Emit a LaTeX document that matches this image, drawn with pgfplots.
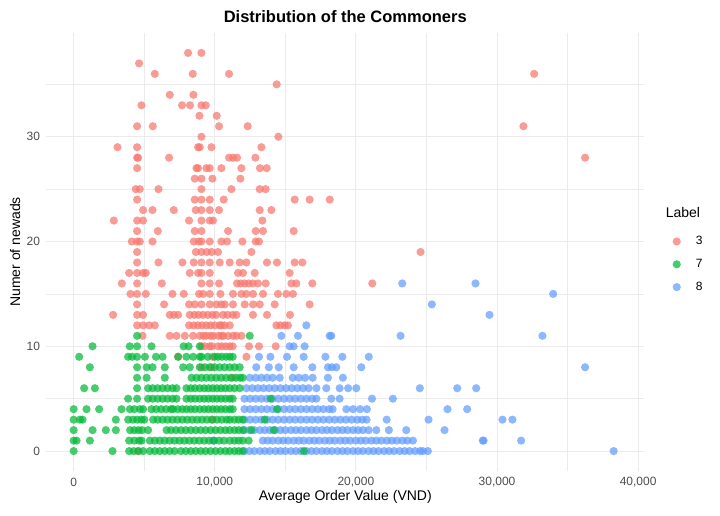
\documentclass[border=0pt]{standalone}
\usepackage{pgfplots}
\pgfplotsset{compat=1.18}
\usepackage{fontspec}
\setmainfont{Liberation Sans}
\definecolor{cA}{HTML}{F8766D}
\definecolor{cB}{HTML}{00BA38}
\definecolor{cC}{HTML}{619CFF}
\definecolor{gridc}{HTML}{EBEBEB}
\definecolor{tickc}{HTML}{4D4D4D}
\pgfplotsset{
 redm/.style={only marks, mark=*, mark size=4.1pt, color=cA, mark options={fill=cA, fill opacity=0.72, draw opacity=0}},
 greenm/.style={only marks, mark=*, mark size=4.1pt, color=cB, mark options={fill=cB, fill opacity=0.72, draw opacity=0}},
 bluem/.style={only marks, mark=*, mark size=4.1pt, color=cC, mark options={fill=cC, fill opacity=0.72, draw opacity=0}},
}
\begin{document}
\begin{tikzpicture}
\useasboundingbox (0,0) rectangle (720pt,516pt);
\begin{axis}[
 at={(46.5pt,45pt)}, anchor=south west,
 scale only axis, width=597.5pt, height=438pt,
 xmin=-1925, xmax=40415, ymin=-1.9, ymax=39.9,
 scaled x ticks=false, scaled y ticks=false,
 axis line style={draw=none},
 major tick length=0pt, minor tick length=0pt,
 xtick={0,10000,20000,30000,40000},
 xticklabels={0,{10,000},{20,000},{30,000},{40,000}},
 ytick={0,10,20,30},
 yticklabels={0,10,20,30},
 minor xtick={5000,15000,25000,35000},
 minor ytick={5,15,25,35},
 grid=both,
 major grid style={gridc, line width=1pt},
 minor grid style={gridc, line width=0.6pt},
 xticklabel style={font=\fontsize{12}{14}\selectfont, text=tickc, anchor=center, yshift=-11pt},
 yticklabel style={font=\fontsize{12}{14}\selectfont, text=tickc, anchor=east, xshift=-3pt},
 xlabel={Average Order Value (VND)},
 ylabel={Numer of newads},
 xlabel style={font=\fontsize{14}{17}\selectfont, at={(axis description cs:0.5,0)}, anchor=center, yshift=-26pt},
 ylabel style={font=\fontsize{14}{17}\selectfont, at={(axis description cs:0,0.5)}, anchor=center, yshift=31.5pt},
 title={Distribution of the Commoners},
 title style={font=\bfseries\fontsize{16.5}{20}\selectfont, at={(axis description cs:0.5,1)}, anchor=center, yshift=10pt},
 legend style={draw=none, fill=none, at={(1,0.5)}, anchor=west, xshift=21pt, yshift=2.5pt,
   font=\fontsize{12}{14}\selectfont, row sep=9pt, legend cell align=left,
   /tikz/every odd column/.append style={column sep=13pt}},
]
\addlegendimage{empty legend}
\addlegendentry{\hspace{-30pt}\raisebox{5pt}{\fontsize{14}{17}\selectfont Label}}
\addlegendimage{redm}
\addlegendentry{3}
\addlegendimage{greenm}
\addlegendentry{7}
\addlegendimage{bluem}
\addlegendentry{8}

% Label 3
\addplot[redm, forget plot] coordinates {
(8106,38)(9050,38)
(4637,37)
(5749,36)(8439,36)(11009,36)(32630,36)
(14386,35)
(6811,34)(8488,34)
(4806,33)(7681,33)(8248,33)(9053,33)(9359,33)
(8912,32)(10138,32)
(4497,31)(5607,31)(10303,31)(12333,31)(31873,31)
(9053,30)(14505,30)
(3107,29)(4497,29)(8816,29)(8935,29)(9762,29)(13302,29)
(4497,28)(4560,28)(6761,28)(11009,28)(11292,28)(11575,28)(12878,28)(36240,28)
(4497,27)(8700,27)(8816,27)(9409,27)(9643,27)(10470,27)(11886,27)(13204,27)(13678,27)
(8580,26)(9053,26)(9830,26)(11816,26)
(4403,25)(4686,25)(6009,25)(9053,25)(11178,25)(13183,25)(13607,25)
(4497,24)(8580,24)(9053,24)(9643,24)(10634,24)(15660,24)(16722,24)(18145,24)
(4920,23)(5586,23)(7094,23)(8651,23)(9053,23)(9643,23)(10303,23)(13183,23)(14011,23)
(2846,22)(4497,22)(4920,22)(8177,22)(9053,22)(9643,22)(9876,22)(13373,22)
(4497,21)(5961,21)(8580,21)(9053,21)(10940,21)(12899,21)(13416,21)(15590,21)
(4120,20)(4497,20)(4686,20)(5586,20)(8510,20)(8864,20)(9053,20)(9643,20)(10470,20)(10868,20)(11958,20)(12900,20)(13133,20)
(4497,19)(8660,19)(9055,19)(9430,19)(9780,19)(10230,19)(12595,19)(24580,19)
(4497,18)(6009,18)(7710,18)(8510,18)(9053,18)(9643,18)(10351,18)(11058,18)(11766,18)(12240,18)(13699,18)(14407,18)(15660,18)(16205,18)
(3931,17)(4497,17)(4920,17)(5112,17)(8227,17)(8816,17)(9053,17)(9643,17)(11646,17)(12000,17)(12828,17)(15306,17)
(3412,16)(4497,16)(6244,16)(9053,16)(9643,16)(10300,16)(11575,16)(11840,16)(12120,16)(12400,16)(12690,16)(13062,16)(13607,16)(15427,16)(15780,16)(16913,16)(21161,16)
(4028,15)(4497,15)(5112,15)(7002,15)(7802,15)(8885,15)(9170,15)(9643,15)(10400,15)(11290,15)(11886,15)(12240,15)(12710,15)(13420,15)(14478,15)(15072,15)(15540,15)
(4497,14)(6409,14)(8177,14)(8580,14)(9055,14)(9643,14)(10117,14)(10470,14)(10705,14)(11290,14)(12120,14)(12710,14)(13183,14)(14245,14)(16722,14)
(2796,13)(4497,13)(4920,13)(6811,13)(7100,13)(7400,13)(8227,13)(8550,13)(8850,13)(9170,13)(9500,13)(9834,13)(10100,13)(10585,13)(10900,13)(11271,13)(11533,13)(12708,13)(13700,13)(15330,13)
(4497,12)(4920,12)(5345,12)(5749,12)(8177,12)(8500,12)(8800,12)(9100,12)(9409,12)(9700,12)(10000,12)(10350,12)(10470,12)(10700,12)(11059,12)(14363,12)(14650,12)(14950,12)(15186,12)
(4878,11)(6811,11)(7285,11)(7874,11)(8460,11)(8935,11)(9200,11)(9409,11)(9700,11)(9900,11)(10250,11)(10470,11)(10600,11)(10950,11)(11300,11)(11535,11)(11887,11)
(9055,10)(9290,10)(9643,10)(9785,10)(10230,10)(10500,10)(10776,10)(11060,10)(11271,10)(12425,10)(13133,10)(14316,10)
(7400,9)(9834,9)(12241,9)
(9055,8)(9763,8)
(11271,7)
(9834,3)
(4550,0)
};

% Label 8
\addplot[bluem, forget plot] coordinates {
(12100,0)(12450,0)(12800,0)(13200,0)(13550,0)(13900,0)(14300,0)(14650,0)(15000,0)(15400,0)(15750,0)(16100,0)(16500,0)(16850,0)(17200,0)(17600,0)(17950,0)(18300,0)(18700,0)(19050,0)(19400,0)(19800,0)(20150,0)(20500,0)(20900,0)(21250,0)(21600,0)(22000,0)(22350,0)(22700,0)(23100,0)(23450,0)(23800,0)(24200,0)(24550,0)(24750,0)(25100,0)(38265,0)
(9877,1)(13400,1)(13750,1)(14100,1)(14500,1)(14850,1)(15200,1)(15600,1)(15950,1)(16300,1)(16700,1)(17050,1)(17400,1)(17800,1)(18150,1)(18500,1)(18900,1)(19250,1)(19600,1)(20000,1)(20350,1)(20700,1)(21100,1)(21450,1)(21800,1)(22200,1)(22550,1)(22900,1)(23300,1)(23650,1)(24040,1)(28991,1)(29050,1)(31708,1)
(12100,2)(12450,2)(12800,2)(13200,2)(13550,2)(13900,2)(14300,2)(14650,2)(15000,2)(15400,2)(15750,2)(16100,2)(16500,2)(16850,2)(17200,2)(17600,2)(17950,2)(18300,2)(18700,2)(19050,2)(19400,2)(19800,2)(20150,2)(20500,2)(20900,2)(21445,2)(22336,2)(23567,2)(26280,2)
(12100,3)(12500,3)(12900,3)(13300,3)(13700,3)(14100,3)(14500,3)(14900,3)(15300,3)(15700,3)(16100,3)(16500,3)(16900,3)(17300,3)(17700,3)(18100,3)(18500,3)(18900,3)(19300,3)(19700,3)(20100,3)(20450,3)(20758,3)(22180,3)(25147,3)(30386,3)(31094,3)
(12100,4)(12500,4)(12900,4)(13300,4)(13700,4)(14100,4)(14500,4)(14900,4)(15300,4)(15700,4)(16100,4)(16500,4)(16900,4)(17300,4)(17700,4)(18100,4)(18350,4)(19321,4)(19800,4)(20300,4)(20780,4)(26492,4)(27886,4)
(12100,5)(12500,5)(12900,5)(13300,5)(13700,5)(14100,5)(14500,5)(14900,5)(15300,5)(15700,5)(16100,5)(16500,5)(16900,5)(17200,5)(18258,5)(18847,5)(21140,5)(22619,5)
(12240,6)(12650,6)(13050,6)(13450,6)(13850,6)(14250,6)(14650,6)(15050,6)(15450,6)(15850,6)(16250,6)(16650,6)(17200,6)(17905,6)(18847,6)(19450,6)(20028,6)(24531,6)(27179,6)(28524,6)
(12474,7)(12900,7)(13300,7)(13700,7)(14100,7)(14600,7)(15520,7)(15950,7)(16400,7)(16935,7)(18018,7)(19080,7)
(12940,8)(13830,8)(14530,8)(15590,8)(16913,8)(18018,8)(18300,8)(18612,8)(20382,8)(36240,8)
(13133,9)(13940,9)(15115,9)(16297,9)(17841,9)(19038,9)(20910,9)
(15307,10)(15590,10)(16368,10)
(14718,11)(15893,11)(18138,11)(18258,11)(23165,11)(33218,11)
(16488,12)
(29465,13)
(25381,14)
(33975,15)
(23285,16)(28474,16)
};

% Label 7
\addplot[greenm, forget plot] coordinates {
(0,0)(2752,0)(3930,0)(4250,0)(4600,0)(4921,0)(5400,0)(5750,0)(6100,0)(6450,0)(6800,0)(7150,0)(7600,0)(7950,0)(8300,0)(8650,0)(9000,0)(9350,0)(9700,0)(10050,0)(10400,0)(10750,0)(11060,0)(11400,0)(11700,0)(11980,0)(16318,0)
(0,1)(205,1)(1147,1)(3930,1)(4300,1)(4650,1)(4810,1)(5400,1)(5750,1)(6100,1)(6450,1)(6800,1)(7150,1)(7500,1)(7850,1)(8200,1)(8550,1)(8900,1)(9250,1)(9600,1)(9950,1)(10300,1)(10650,1)(11060,1)(11400,1)(11700,1)(11980,1)(12400,1)
(0,2)(1336,2)(2280,2)(2988,2)(4000,2)(4300,2)(4600,2)(4850,2)(5275,2)(6580,2)(6900,2)(7250,2)(7600,2)(7950,2)(8300,2)(8650,2)(9000,2)(9350,2)(9700,2)(10050,2)(10400,2)(10750,2)(11060,2)(11400,2)(11700,2)(12000,2)(12600,2)(14175,2)
(0,3)(440,3)(629,3)(2988,3)(3860,3)(4200,3)(4500,3)(4800,3)(5010,3)(5630,3)(5950,3)(6300,3)(6650,3)(7000,3)(7350,3)(7700,3)(8050,3)(8400,3)(8750,3)(9100,3)(9450,3)(9800,3)(10150,3)(10500,3)(10850,3)(11060,3)(11400,3)(11700,3)(11980,3)(13537,3)
(0,4)(913,4)(1805,4)(3389,4)(3979,4)(4300,4)(4700,4)(4921,4)(5515,4)(5850,4)(6200,4)(6550,4)(6900,4)(7045,4)(7380,4)(7700,4)(8000,4)(8300,4)(8600,4)(8935,4)(9250,4)(9550,4)(9850,4)(10150,4)(10450,4)(10750,4)(11060,4)(11271,4)(14408,4)
(3860,5)(4496,5)(5275,5)(5600,5)(5950,5)(6300,5)(6650,5)(7000,5)(7285,5)(7990,5)(8300,5)(8600,5)(8935,5)(9250,5)(9550,5)(9850,5)(10150,5)(10450,5)(10750,5)(11060,5)(11271,5)(13960,5)
(743,6)(1501,6)(4496,6)(5275,6)(5600,6)(5950,6)(6300,6)(6650,6)(7000,6)(7285,6)(7990,6)(8300,6)(8600,6)(8935,6)(9250,6)(9550,6)(9850,6)(10150,6)(10450,6)(10750,6)(11060,6)(11400,6)(11767,6)
(4496,7)(5170,7)(6457,7)(8350,7)(8700,7)(9050,7)(9400,7)(9750,7)(10100,7)(10450,7)(10800,7)(11150,7)(11500,7)(11800,7)(11980,7)
(1147,8)(4496,8)(5170,8)(5590,8)(6457,8)(7760,8)(8230,8)(8935,8)(9300,8)(9650,8)(10000,8)(10350,8)(10700,8)(11060,8)(11400,8)(11767,8)
(392,9)(3860,9)(4140,9)(4496,9)(5050,9)(5830,9)(6300,9)(7400,9)(7990,9)(8470,9)(8935,9)(9055,9)(9500,9)(10000,9)(10230,9)(10500,9)(10800,9)(11060,9)(11271,9)
(1336,10)(3979,10)(4496,10)(5515,10)(7790,10)(8145,10)(8935,10)
(4496,11)(12474,11)
};
\end{axis}
\end{tikzpicture}
\end{document}
